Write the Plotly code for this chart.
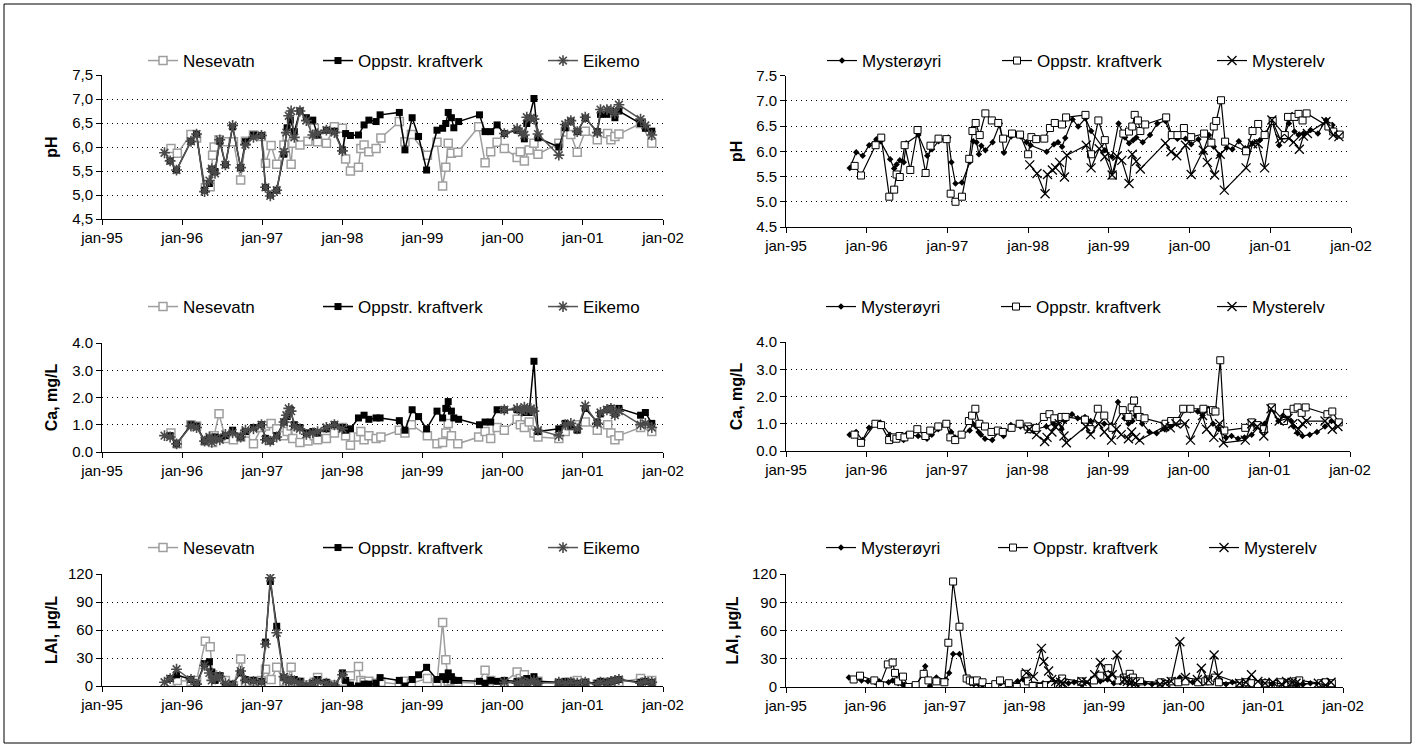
import plotly.graph_objects as go

W, H = 1415, 747

# ---------------- data (decimal years) ----------------
year_ticks = [1995, 1996, 1997, 1998, 1999, 2000, 2001, 2002]
year_labels = ["jan-95", "jan-96", "jan-97", "jan-98", "jan-99", "jan-00", "jan-01", "jan-02"]

nesevatn_dates = [1995.86, 1995.94, 1996.11, 1996.18, 1996.29, 1996.35, 1996.38, 1996.40, 1996.46, 1996.54,
                  1996.64, 1996.73, 1996.79, 1996.89, 1996.99, 1997.04, 1997.11, 1997.18, 1997.27, 1997.31,
                  1997.36, 1997.38, 1997.47, 1997.57, 1997.65, 1997.69, 1997.80, 1997.90, 1998.00, 1998.04,
                  1998.10, 1998.20, 1998.23, 1998.27, 1998.33, 1998.42, 1998.48, 1998.71, 1998.78, 1998.86,
                  1999.06, 1999.18, 1999.25, 1999.29, 1999.32, 1999.36, 1999.44, 1999.70, 1999.78, 1999.85,
                  1999.93, 2000.02, 2000.18, 2000.22, 2000.27, 2000.33, 2000.39, 2000.44, 2000.70, 2000.78,
                  2000.85, 2000.93, 2001.03, 2001.18, 2001.31, 2001.35, 2001.40, 2001.45, 2001.72, 2001.86]
nesevatn_ph = [5.97, 5.87, 6.26, 6.19, 5.15, 5.17, 5.83, 6.00, 6.15, 6.11,
               6.11, 5.31, 6.12, 6.25, 6.22, 5.66, 6.03, 5.64, 6.04, 6.22,
               5.64, 6.08, 6.04, 6.12, 6.39, 6.11, 6.08, 6.42, 6.39, 5.75,
               5.50, 5.58, 5.97, 6.04, 5.90, 5.97, 6.19, 6.53, 6.11, 6.26,
               5.83, 6.10, 5.19, 5.58, 6.08, 5.87, 5.89, 6.42, 5.67, 5.90,
               6.10, 5.97, 5.78, 5.90, 5.71, 5.94, 6.08, 5.85, 6.08, 6.31,
               6.26, 5.89, 6.33, 6.15, 6.28, 6.15, 6.22, 6.27, 6.49, 6.08]
nesevatn_ca = [0.70, 0.30, 1.00, 0.95, 0.40, 0.50, 0.35, 0.60, 1.40, 0.50,
               0.45, 0.55, 0.70, 0.30, 0.90, 0.95, 1.05, 0.85, 0.60, 0.75,
               0.95, 0.50, 0.35, 0.40, 0.60, 0.45, 0.50, 0.70, 0.90, 0.60,
               0.25, 0.55, 0.75, 0.45, 0.60, 0.50, 0.55, 0.80, 0.70, 1.00,
               0.60, 0.30, 0.35, 0.70, 1.05, 0.60, 0.30, 0.55, 0.75, 0.50,
               0.90, 0.80, 1.20, 1.00, 0.90, 1.10, 0.70, 0.55, 0.50, 0.75,
               0.95, 1.00, 1.10, 0.80, 1.00, 0.70, 0.45, 0.60, 0.90, 0.75]
nesevatn_lal = [4, 6, 5, 6, 48, 42, 12, 8, 10, 6,
                0, 29, 4, 5, 6, 18, 7, 20, 5, 4,
                20, 5, 4, 1, 4, 9, 2, 1, 5, 8,
                11, 21, 6, 4, 5, 3, 4, 2, 5, 3,
                8, 4, 68, 28, 5, 6, 4, 3, 17, 6,
                3, 4, 15, 8, 12, 5, 3, 5, 2, 3,
                4, 6, 3, 2, 4, 3, 5, 4, 8, 6]

oppstr_dates = [1995.85, 1995.93, 1996.11, 1996.18, 1996.28, 1996.34, 1996.37, 1996.41, 1996.47, 1996.54,
                1996.63, 1996.73, 1996.79, 1996.89, 1996.99, 1997.04, 1997.10, 1997.18, 1997.27, 1997.31,
                1997.35, 1997.40, 1997.47, 1997.55, 1997.63, 1997.69, 1997.80, 1997.90, 1998.00, 1998.04,
                1998.10, 1998.20, 1998.27, 1998.33, 1998.42, 1998.47, 1998.71, 1998.78, 1998.87, 1998.95,
                1999.05, 1999.18, 1999.25, 1999.29, 1999.32, 1999.36, 1999.39, 1999.45, 1999.71, 1999.78,
                1999.85, 1999.93, 2000.02, 2000.18, 2000.27, 2000.30, 2000.33, 2000.39, 2000.44, 2000.70,
                2000.78, 2000.85, 2000.93, 2001.03, 2001.18, 2001.22, 2001.30, 2001.35, 2001.40, 2001.45,
                2001.72, 2001.78, 2001.86]
oppstr_ph = [5.71, 5.52, 6.12, 6.27, 5.10, 5.24, 5.54, 5.49, 6.12, 5.63,
             6.42, 5.57, 6.11, 6.25, 6.24, 5.16, 5.00, 5.10, 5.85, 6.40,
             6.56, 6.32, 6.75, 6.61, 6.56, 6.25, 6.35, 6.33, 5.94, 6.28,
             6.24, 6.25, 6.46, 6.56, 6.53, 6.67, 6.72, 5.94, 6.61, 6.22,
             5.52, 6.35, 6.39, 6.49, 6.72, 6.61, 6.40, 6.53, 6.67, 6.32,
             6.32, 6.46, 6.28, 6.35, 6.17, 6.49, 6.60, 7.01, 6.19, 6.00,
             6.40, 6.54, 6.32, 6.60, 6.32, 6.68, 6.68, 6.74, 6.61, 6.75,
             6.49, 6.39, 6.33]
oppstr_ca = [0.60, 0.30, 1.00, 0.95, 0.40, 0.50, 0.45, 0.55, 0.50, 0.60,
             0.80, 0.55, 0.75, 0.90, 1.00, 0.50, 0.40, 0.60, 1.10, 1.30,
             1.55, 1.00, 0.90, 0.70, 0.75, 0.70, 0.85, 1.00, 0.90, 0.80,
             0.85, 1.25, 1.35, 1.20, 1.25, 1.25, 1.15, 0.80, 1.55, 1.30,
             0.85, 1.50, 1.25, 1.60, 1.85, 1.50, 1.25, 1.20, 1.00, 1.10,
             1.10, 1.55, 1.55, 1.55, 1.45, 1.50, 1.45, 3.33, 0.75, 0.85,
             1.05, 0.95, 0.80, 1.60, 1.10, 1.40, 1.55, 1.60, 1.40, 1.60,
             1.35, 1.45, 1.05]
oppstr_lal = [8, 12, 7, 2, 24, 26, 15, 6, 11, 0,
              2, 14, 7, 6, 5, 47, 112, 64, 9, 7,
              6, 7, 5, 0, 3, 7, 4, 0, 14, 6,
              1, 0, 2, 2, 3, 9, 6, 0, 7, 12,
              20, 7, 10, 7, 14, 10, 6, 6, 5, 3,
              6, 5, 6, 5, 6, 8, 6, 10, 5, 4,
              5, 4, 3, 4, 3, 5, 4, 5, 6, 7,
              4, 5, 4]

# Eikemo: no samples between early 1998 and 2000 (None = gap in the line)
eikemo_dates = [1995.78, 1995.85, 1995.93, 1996.11, 1996.18, 1996.28, 1996.34, 1996.37, 1996.41, 1996.47,
                1996.54, 1996.63, 1996.73, 1996.79, 1996.89, 1996.99, 1997.04, 1997.10, 1997.18, 1997.27,
                1997.30, 1997.33, 1997.36, 1997.40, 1997.47, 1997.55, 1997.63, 1997.69, 1997.80, 1997.90,
                1998.00, None,
                2000.02, 2000.18, 2000.24, 2000.27, 2000.30, 2000.35, 2000.39, 2000.44, 2000.70,
                2000.78, 2000.85, 2000.93, 2001.03, 2001.18, 2001.22, 2001.30, 2001.35, 2001.40, 2001.45,
                2001.72, 2001.78, 2001.86]
eikemo_ph = [5.88, 5.71, 5.52, 6.12, 6.27, 5.07, 5.30, 5.55, 5.45, 6.15,
             5.63, 6.45, 5.57, 6.05, 6.20, 6.24, 5.16, 4.98, 5.10, 5.90,
             6.30, 6.65, 6.75, 6.20, 6.75, 6.55, 6.25, 6.28, 6.35, 6.30,
             5.92, None,
             6.28, 6.38, 6.30, 6.25, 6.62, 6.60, 6.58, 6.27, 5.83,
             6.47, 6.55, 6.32, 6.62, 6.30, 6.78, 6.78, 6.78, 6.70, 6.88,
             6.58, 6.45, 6.25]
eikemo_ca = [0.60, 0.55, 0.30, 0.95, 0.90, 0.40, 0.55, 0.35, 0.50, 0.45,
             0.65, 0.70, 0.55, 0.80, 0.85, 1.00, 0.45, 0.40, 0.55, 1.10,
             1.35, 1.60, 1.50, 0.95, 0.85, 0.65, 0.70, 0.75, 0.90, 1.00,
             0.85, None,
             1.55, 1.60, 1.50, 1.65, 1.55, 1.60, 1.50, 0.80, 0.60,
             1.00, 1.05, 0.85, 1.70, 1.05, 1.45, 1.55, 1.60, 1.35, 1.50,
             1.00, 1.05, 0.90]
eikemo_lal = [4, 8, 18, 7, 2, 22, 14, 6, 9, 10,
              3, 1, 16, 6, 5, 4, 45, 116, 57, 10,
              6, 5, 7, 5, 3, 0, 3, 5, 3, 1,
              12, None,
              4, 3, 5, 4, 3, 4, 6, 3, 4,
              3, 4, 3, 4, 2, 4, 3, 5, 6, 7,
              3, 5, 4]

mysteroyri_dates = [1995.79, 1995.87, 1995.95, 1996.03, 1996.12, 1996.17, 1996.29, 1996.34, 1996.37, 1996.41,
                    1996.46, 1996.49, 1996.64, 1996.75, 1996.81, 1996.89, 1997.01, 1997.05, 1997.10, 1997.18,
                    1997.28, 1997.32, 1997.36, 1997.39, 1997.42, 1997.47, 1997.56, 1997.65, 1997.70, 1997.79,
                    1997.91, 1997.98, 1998.03, 1998.23, 1998.32, 1998.37, 1998.42, 1998.46, 1998.55, 1998.62,
                    1998.71, 1998.78, 1998.95, 1999.04, 1999.12, 1999.20, 1999.25, 1999.30, 1999.34, 1999.42,
                    1999.51, 1999.60, 1999.70, 1999.77, 1999.85, 1999.95, 2000.02, 2000.11, 2000.17, 2000.24,
                    2000.30, 2000.37, 2000.46, 2000.53, 2000.61, 2000.69, 2000.78, 2000.87, 2000.94, 2001.02,
                    2001.11, 2001.17, 2001.23, 2001.27, 2001.30, 2001.35, 2001.41, 2001.50, 2001.59, 2001.69,
                    2001.77, 2001.83]
mysteroyri_ph = [5.67, 5.98, 5.91, 6.12, 6.24, 6.20, 5.84, 5.66, 5.74, 5.82,
                 5.78, 6.16, 6.32, 5.91, 6.04, 6.20, 6.27, 5.78, 5.36, 5.38,
                 5.79, 6.20, 6.18, 5.94, 6.11, 6.02, 6.18, 6.55, 5.97, 6.29,
                 6.29, 6.18, 6.12, 5.99, 6.14, 6.18, 6.09, 6.26, 6.63, 6.49,
                 6.65, 6.40, 6.02, 5.89, 6.55, 6.27, 6.16, 6.22, 6.27, 6.18,
                 6.32, 6.55, 6.60, 6.32, 6.25, 6.25, 6.14, 6.24, 5.99, 6.32,
                 6.09, 5.92, 6.07, 6.04, 6.20, 6.06, 6.16, 6.22, 6.35, 6.60,
                 6.12, 6.29, 6.55, 6.72, 6.39, 6.32, 6.35, 6.42, 6.35, 6.62,
                 6.52, 6.32]
mysteroyri_ca = [0.60, 0.70, 0.40, 0.85, 1.00, 1.05, 0.60, 0.50, 0.45, 0.55,
                 0.40, 0.60, 0.55, 0.45, 0.60, 0.80, 1.00, 0.70, 0.50, 0.60,
                 0.75, 1.00, 0.90, 0.70, 0.60, 0.45, 0.40, 0.75, 0.55, 0.95,
                 0.90, 0.85, 0.75, 0.90, 1.00, 1.20, 0.80, 1.10, 1.35, 1.20,
                 1.25, 1.10, 1.00, 0.95, 1.80, 1.20, 1.00, 1.10, 1.30, 1.00,
                 0.70, 0.65, 0.80, 0.90, 1.00, 1.50, 1.50, 1.45, 1.30, 1.55,
                 1.00, 0.80, 0.50, 0.55, 0.45, 0.50, 0.60, 0.90, 1.00, 1.55,
                 1.10, 1.30, 1.40, 1.10, 0.90, 0.65, 0.55, 0.60, 0.70, 0.90,
                 1.10, 1.05]
mysteroyri_lal = [10, 8, 7, 6, 5, 6, 5, 7, 6, 4,
                  3, 2, 1, 22, 1, 10, 8, 15, 35, 35,
                  8, 4, 3, 5, 3, 2, 1, 2, 4, 3,
                  6, 8, 6, 4, 3, 5, 4, 6, 4, 5,
                  3, 4, 6, 8, 4, 5, 6, 4, 5, 3,
                  4, 3, 4, 5, 6, 10, 8, 5, 6, 4,
                  7, 10, 4, 3, 5, 4, 3, 5, 4, 6,
                  3, 5, 4, 6, 3, 4, 2, 3, 4, 3,
                  4, 3]

mysterelv_dates = [1998.02, 1998.11, 1998.21, 1998.24, 1998.30, 1998.34, 1998.39, 1998.45, 1998.48, 1998.72,
                   1998.78, 1998.88, 1998.95, 1999.04, 1999.10, 1999.16, 1999.25, 1999.29, 1999.34, 1999.39,
                   1999.70, 1999.77, 1999.84, 1999.95, 2000.02, 2000.17, 2000.22, 2000.31, 2000.38, 2000.43,
                   2000.70, 2000.78, 2000.85, 2000.93, 2001.02, 2001.12, 2001.23, 2001.29, 2001.36, 2001.41,
                   2001.46, 2001.69, 2001.78, 2001.85]
mysterelv_ph = [5.73, 5.56, 5.16, 5.54, 5.63, 5.67, 5.78, 5.49, 5.92, 6.12,
                5.67, 6.05, 5.89, 5.53, 5.90, 5.82, 5.36, 5.94, 5.80, 5.65,
                6.16, 5.99, 5.91, 6.12, 5.54, 6.02, 5.78, 5.53, 5.94, 5.23,
                5.67, 6.15, 6.15, 5.67, 6.62, 6.25, 6.25, 6.18, 6.04, 6.30,
                6.35, 6.59, 6.32, 6.29]
mysterelv_ca = [0.80, 0.60, 0.35, 0.50, 0.70, 0.90, 1.00, 0.55, 0.30, 0.90,
                0.60, 1.00, 0.70, 0.40, 0.80, 0.60, 0.45, 0.70, 0.50, 0.40,
                0.90, 0.85, 1.00, 1.00, 0.40, 1.30, 0.80, 0.50, 1.00, 0.30,
                0.40, 1.00, 0.90, 0.55, 1.55, 1.10, 1.20, 1.00, 0.80, 1.00,
                1.10, 1.10, 0.80, 0.90]
mysterelv_lal = [15, 11, 41, 27, 17, 8, 6, 5, 4, 6,
                 5, 13, 26, 10, 13, 34, 8, 6, 5, 4,
                 3, 4, 6, 48, 10, 8, 20, 7, 34, 12,
                 4, 5, 13, 6, 4, 5, 3, 6, 5, 4,
                 3, 4, 2, 5]

ph_ticks = [4.5, 5.0, 5.5, 6.0, 6.5, 7.0, 7.5]
ph_labels_comma = ["4,5", "5,0", "5,5", "6,0", "6,5", "7,0", "7,5"]
ph_labels_dot = ["4.5", "5.0", "5.5", "6.0", "6.5", "7.0", "7.5"]
ca_ticks = [0, 1, 2, 3, 4]
ca_labels = ["0.0", "1.0", "2.0", "3.0", "4.0"]
lal_ticks = [0, 30, 60, 90, 120]
lal_labels = ["0", "30", "60", "90", "120"]

# ---------------- styling ----------------
FONT = "Arial, Liberation Sans, sans-serif"
tickfont = dict(family=FONT, size=15, color="black")

st_nes = dict(line=dict(color="#9e9e9e", width=1.5),
              marker=dict(symbol="square", size=8, color="white", line=dict(color="#9e9e9e", width=1.5)))
st_opp_l = dict(line=dict(color="black", width=1.5),
                marker=dict(symbol="square", size=7, color="black", line=dict(color="black", width=0)))
st_eik = dict(line=dict(color="#555555", width=1.5),
              marker=dict(symbol="asterisk-open", size=9, color="#4a4a4a", line=dict(color="#4a4a4a", width=1.6)))
st_mys = dict(line=dict(color="black", width=1.2),
              marker=dict(symbol="diamond", size=5, color="black", line=dict(color="black", width=0)))
st_opp_r = dict(line=dict(color="black", width=1.2),
                marker=dict(symbol="square", size=7, color="white", line=dict(color="black", width=1)))
st_mel = dict(line=dict(color="black", width=1.2),
              marker=dict(symbol="x-thin-open", size=9, color="black", line=dict(color="black", width=1.3)))

# panel geometry in pixels: (x0, x1), (ytop, ybottom)
panels = [
    ((102, 663), (75, 219)),
    ((786, 1351), (75.5, 227)),
    ((102, 663), (343, 452)),
    ((786, 1350), (342, 451)),
    ((102, 663), (574, 686)),
    ((786, 1343), (574, 687)),
]
legend_y = [61, 61, 307, 307, 548, 548]
legend_x_left = [143, 318, 543]
legend_x_right = [[822, 997, 1212], [821, 996, 1212], [821, 993, 1204]]

fig = go.Figure()

series_left = [
    ("Nesevatn", nesevatn_dates, [nesevatn_ph, nesevatn_ca, nesevatn_lal], st_nes),
    ("Oppstr. kraftverk", oppstr_dates, [oppstr_ph, oppstr_ca, oppstr_lal], st_opp_l),
    ("Eikemo", eikemo_dates, [eikemo_ph, eikemo_ca, eikemo_lal], st_eik),
]
series_right = [
    ("Mysterøyri", mysteroyri_dates, [mysteroyri_ph, mysteroyri_ca, mysteroyri_lal], st_mys),
    ("Oppstr. kraftverk", oppstr_dates, [oppstr_ph, oppstr_ca, oppstr_lal], st_opp_r),
    ("Mysterelv", mysterelv_dates, [mysterelv_ph, mysterelv_ca, mysterelv_lal], st_mel),
]

legend_count = 0
layout_legends = {}
for row in range(3):
    for side in range(2):
        pidx = row * 2 + side + 1
        sfx = "" if pidx == 1 else str(pidx)
        series = series_left if side == 0 else series_right
        lx = legend_x_left if side == 0 else legend_x_right[row]
        for k, (name, xs, vals, st) in enumerate(series):
            legend_count += 1
            lname = "legend" if legend_count == 1 else f"legend{legend_count}"
            fig.add_trace(go.Scatter(
                x=xs, y=vals[row], name=name, mode="lines+markers",
                line=st["line"], marker=st["marker"],
                xaxis="x" + sfx, yaxis="y" + sfx,
                legend=lname, showlegend=True, connectgaps=False,
                hoverinfo="skip",
            ))
            layout_legends[lname] = dict(
                x=lx[k] / W, y=1 - legend_y[pidx - 1] / H,
                xanchor="left", yanchor="middle", orientation="h",
                bgcolor="rgba(0,0,0,0)", borderwidth=0,
                font=dict(family=FONT, size=17, color="black"),
                itemclick=False, itemdoubleclick=False,
            )

fig.update_layout(template="none")
fig.update_layout(**layout_legends)

axis_common = dict(showline=True, linecolor="black", linewidth=1, ticks="outside", ticklen=5,
                   tickcolor="black", tickwidth=1, zeroline=False, tickfont=tickfont,
                   fixedrange=True, automargin=False)

yinfo = [
    ([4.5, 7.5], ph_ticks, ph_labels_comma, "pH", 10),
    ([4.5, 7.5], ph_ticks, ph_labels_dot, "pH", 9),
    ([0, 4], ca_ticks, ca_labels, "Ca, mg/L", 10),
    ([0, 4], ca_ticks, ca_labels, "Ca, mg/L", 9),
    ([0, 120], lal_ticks, lal_labels, "LAl, µg/L", 6),
    ([0, 120], lal_ticks, lal_labels, "LAl, µg/L", 9),
]

for i, ((x0, x1), (yt, yb)) in enumerate(panels, start=1):
    sfx = "" if i == 1 else str(i)
    rng, tv, tt, title, standoff = yinfo[i - 1]
    fig.layout["xaxis" + sfx] = dict(
        domain=[x0 / W, x1 / W], anchor="y" + sfx, range=[1995, 2002],
        tickmode="array", tickvals=year_ticks, ticktext=year_labels,
        showgrid=False, **axis_common)
    fig.layout["yaxis" + sfx] = dict(
        domain=[1 - yb / H, 1 - yt / H], anchor="x" + sfx, range=rng,
        tickmode="array", tickvals=tv, ticktext=tt,
        showgrid=True, gridcolor="black", gridwidth=1, griddash="1px,4px",
        title=dict(text=f"<b>{title}</b>", font=dict(family=FONT, size=16, color="black"),
                   standoff=standoff),
        **axis_common)

fig.add_shape(type="rect", xref="paper", yref="paper",
              x0=4 / W, x1=1 - 4 / W, y0=4 / H, y1=1 - 4 / H,
              line=dict(color="black", width=1), fillcolor="rgba(0,0,0,0)", layer="below")

fig.update_layout(
    width=W, height=H, autosize=False,
    margin=dict(l=0, r=0, t=0, b=0, pad=0),
    paper_bgcolor="white", plot_bgcolor="white",
    font=dict(family=FONT, color="black"),
)

fig.write_html("out.html", config={"displayModeBar": False})
